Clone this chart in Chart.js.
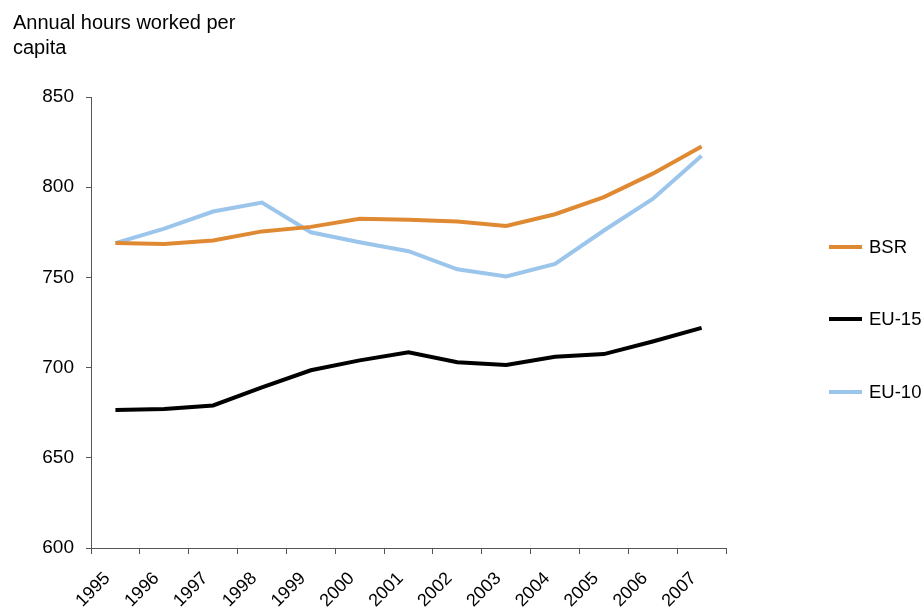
<!DOCTYPE html>
<html>
<head>
<meta charset="utf-8">
<script src="https://cdn.jsdelivr.net/npm/chart.js@4"></script>
<style>
  html, body { margin: 0; padding: 0; background: #fff; }
  #wrap { width: 923px; height: 612px; }
</style>
</head>
<body>
<div id="wrap"><canvas id="hoursChart" width="923" height="612"></canvas></div>
<script>
const years = ['1995', '1996', '1997', '1998', '1999', '2000', '2001', '2002', '2003', '2004', '2005', '2006', '2007'];
const bsr = [769, 768.5, 770.5, 775.5, 778, 782.5, 782, 781, 778.5, 785, 794.5, 807.5, 822.5];
const eu15 = [676.5, 677, 679, 689, 698.5, 704, 708.5, 703, 701.5, 706, 707.5, 714.5, 722];
const eu10 = [769, 777, 786.5, 791.5, 775, 769.5, 764.5, 754.5, 750.5, 757.5, 776, 793.5, 817.5];
const yTicks = [600, 650, 700, 750, 800, 850];

const FONT = 'Liberation Sans, Arial, sans-serif';

// legend drawn to the right, like the original
const sideLegend = {
  id: 'sideLegend',
  afterDraw(chart) {
    const c = chart.ctx;
    const rows = [247, 319, 392];
    c.save();
    c.font = '18.5px ' + FONT;
    c.textBaseline = 'middle';
    chart.data.datasets.forEach((ds, i) => {
      c.strokeStyle = ds.borderColor;
      c.lineWidth = 4;
      c.beginPath();
      c.moveTo(829, rows[i]);
      c.lineTo(862, rows[i]);
      c.stroke();
      c.fillStyle = '#000';
      c.fillText(ds.label, 869, rows[i] + 1);
    });
    c.restore();
  }
};

const ctx = document.getElementById('hoursChart').getContext('2d');
new Chart(ctx, {
  type: 'line',
  data: {
    labels: years,
    datasets: [
      { label: 'BSR', data: bsr, borderColor: '#DF8A33', borderWidth: 4, pointRadius: 0, tension: 0, fill: false },
      { label: 'EU-15', data: eu15, borderColor: '#000000', borderWidth: 4, pointRadius: 0, tension: 0, fill: false },
      { label: 'EU-10', data: eu10, borderColor: '#9CC5EC', borderWidth: 4, pointRadius: 0, tension: 0, fill: false },
    ],
  },
  options: {
    responsive: false,
    animation: false,
    layout: { padding: { left: 13, right: 197, top: 0, bottom: 0 } },
    plugins: {
      legend: { display: false },
      tooltip: { enabled: false },
      title: {
        display: true,
        text: ['Annual hours worked per', 'capita'],
        align: 'start',
        color: '#000',
        font: { family: FONT, size: 20, weight: 'normal', lineHeight: 1.25 },
        padding: { top: 11, bottom: 36 },
      },
    },
    scales: {
      x: {
        offset: true,
        grid: { drawOnChartArea: false, color: '#555', tickLength: 6, offset: true },
        border: { color: '#555', width: 1 },
        ticks: {
          minRotation: 45,
          maxRotation: 45,
          color: '#000',
          padding: 14,
          labelOffset: -8,
          font: { family: FONT, size: 18 },
        },
        afterFit(scale) { scale.height = 64; },
      },
      y: {
        min: 600,
        max: 850,
        afterBuildTicks(scale) { scale.ticks = yTicks.map(v => ({ value: v })); },
        grid: { drawOnChartArea: false, color: '#555', tickLength: 5 },
        border: { color: '#555', width: 1 },
        ticks: {
          color: '#000',
          padding: 12,
          font: { family: FONT, size: 19 },
        },
        afterFit(scale) { scale.width = 78; },
      },
    },
  },
  plugins: [sideLegend],
});
</script>
</body>
</html>
